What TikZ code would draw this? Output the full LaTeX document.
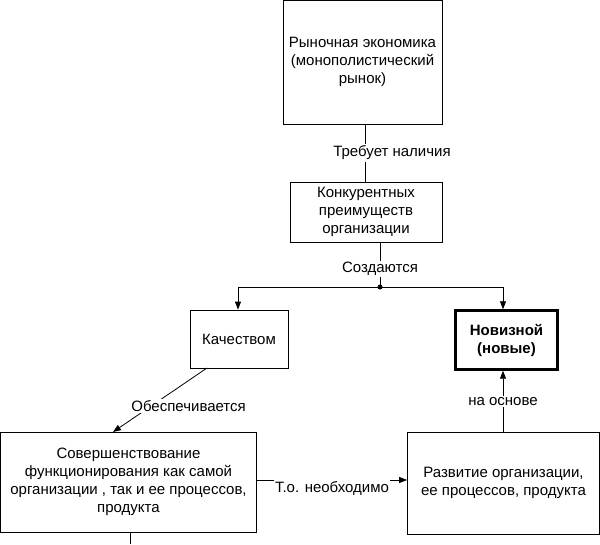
\documentclass[tikz,border=0pt]{standalone}
\usepackage{fontspec}
\setmainfont{Liberation Sans}
\usetikzlibrary{arrows.meta}
\begin{document}
\begin{tikzpicture}[x=1pt,y=-1pt,
  box/.style={draw, line width=0.8pt, align=center, inner sep=0pt, font=\fontsize{15}{18}\selectfont},
  lbl/.style={fill=white, inner sep=1.5pt, font=\fontsize{15}{18}\selectfont},
  arr/.style={-{Triangle[length=8pt,width=6pt]}, line width=0.8pt}]
\useasboundingbox (0,0) rectangle (600,544);
\node[box, minimum width=159pt, minimum height=124pt] (market) at (362.5,62) {Рыночная экономика\\(монополистический\\рынок)};
\node[box, minimum width=152pt, minimum height=60pt] (advant) at (366,212) {Конкурентных\\преимуществ\\организации};
\node[box, minimum width=98pt, minimum height=58pt] (quality) at (239,339) {Качеством};
\node[box, line width=2.4pt, minimum width=102pt, minimum height=59pt, font=\fontsize{15}{18}\selectfont\bfseries] (novelty) at (506.5,340) {Новизной\\(новые)};
\node[box, minimum width=256pt, minimum height=100pt] (improve) at (128.5,482) {Совершенствование\\функционирования как самой\\организации , так и ее процессов,\\продукта};
\node[box, minimum width=192pt, minimum height=102pt] (develop) at (503.5,483) {Развитие организации,\\ее процессов, продукта};
\coordinate (split) at (380,287);
\coordinate (tail) at (130,544);
% links
\draw[line width=0.8pt] (365,124) -- (365,182) node[lbl, midway, xshift=27pt] {Требует наличия};
\draw[line width=0.8pt] (advant.south -| split) -- (split) node[lbl, pos=0.6] {Создаются};
\fill (split) circle (2.5pt);
\draw[arr] (split) -| (quality.north -| 238,0);
\draw[arr] (split) -| (novelty.north -| 503,0);
\draw[arr] (207,368) -- (113,432) node[lbl, pos=0.6, xshift=38pt] {Обеспечивается};
\draw[arr] (improve.east |- 0,480) -- (develop.west |- 0,480) node[lbl, midway, yshift=-8pt] {Т.о. необходимо};
\draw[arr] (develop.north -| 503,0) -- (novelty.south -| 503,0) node[lbl, midway] {на основе};
\draw[line width=0.8pt] (improve.south -| tail) -- (tail);
\end{tikzpicture}
\end{document}
